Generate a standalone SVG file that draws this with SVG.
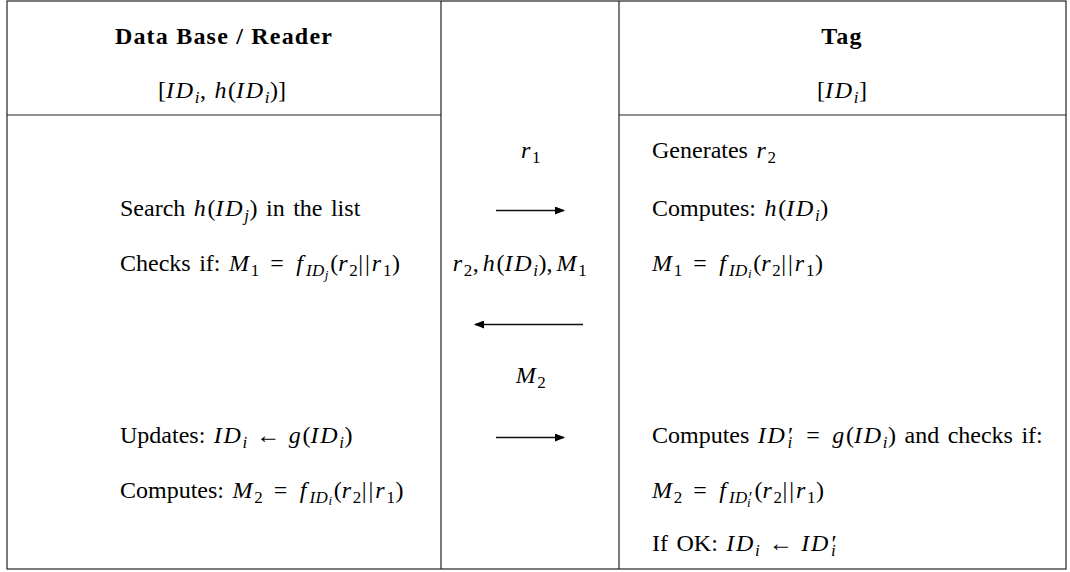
<svg xmlns="http://www.w3.org/2000/svg" width="1070" height="572" viewBox="0 0 1070 572">
<style>
.t{font-family:"Liberation Serif","DejaVu Serif",serif;font-size:24px;fill:#000;word-spacing:2.5px}
.b{font-weight:bold;letter-spacing:1.2px;word-spacing:0}
.i{font-style:italic;letter-spacing:1.7px}
.f{letter-spacing:3px}
.eq{letter-spacing:2px}
.bar{letter-spacing:2px}
.s{font-size:17px;letter-spacing:0.5px}
.ss{font-size:13px}
.m{text-anchor:middle}
.ln{stroke:#222;stroke-width:1.2;fill:none}
.arr{stroke:#111;stroke-width:1.3;fill:none;marker-end:url(#ah)}
</style>
<defs>
<marker id="ah" viewBox="0 0 10 8" refX="9" refY="4" markerWidth="10" markerHeight="8" markerUnits="userSpaceOnUse" orient="auto">
<path d="M0,0 L10,4 L0,8 z" fill="#000"/>
</marker>
</defs>
<rect width="1070" height="572" fill="#fff"/>
<g id="frame">
<rect class="ln" x="7" y="1" width="1059" height="568"/>
<line class="ln" x1="441" y1="1" x2="441" y2="569"/>
<line class="ln" x1="619" y1="1" x2="619" y2="569"/>
<line class="ln" x1="7" y1="115" x2="441" y2="115" stroke="#555"/>
<line class="ln" x1="619" y1="115" x2="1066" y2="115" stroke="#555"/>
</g>
<g id="reader">
<text class="t b m" x="224" y="44">Data Base / Reader</text>
<text class="t m" x="222" y="98">[<tspan class="i">ID</tspan><tspan class="i s" dy="5">i</tspan><tspan dy="-5">, </tspan><tspan class="i">h</tspan>(<tspan class="i">ID</tspan><tspan class="i s" dy="5">i</tspan><tspan dy="-5">)]</tspan></text>
<text class="t" x="120" y="216">Search <tspan class="i">h</tspan>(<tspan class="i">ID</tspan><tspan class="i s" dy="5">j</tspan><tspan dy="-5">) in the list</tspan></text>
<text class="t" x="120" y="271">Checks if: <tspan class="i">M</tspan><tspan class="s" dy="5">1</tspan><tspan class="eq" dy="-5"> = </tspan><tspan class="i f">f</tspan><tspan class="i s" dy="5">ID</tspan><tspan class="i ss" dy="3">j</tspan><tspan dy="-8">(</tspan><tspan class="i">r</tspan><tspan class="s" dy="5">2</tspan><tspan class="bar" dy="-5">||</tspan><tspan class="i">r</tspan><tspan class="s" dy="5">1</tspan><tspan dy="-5">)</tspan></text>
<text class="t" x="120" y="443">Updates: <tspan class="i">ID</tspan><tspan class="i s" dy="5">i</tspan><tspan dy="-5"> ← </tspan><tspan class="i">g</tspan>(<tspan class="i">ID</tspan><tspan class="i s" dy="5">i</tspan><tspan dy="-5">)</tspan></text>
<text class="t" x="120" y="498">Computes: <tspan class="i">M</tspan><tspan class="s" dy="5">2</tspan><tspan class="eq" dy="-5"> = </tspan><tspan class="i f">f</tspan><tspan class="i s" dy="5">ID</tspan><tspan class="i ss" dy="2">i</tspan><tspan dy="-7">(</tspan><tspan class="i">r</tspan><tspan class="s" dy="5">2</tspan><tspan class="bar" dy="-5">||</tspan><tspan class="i">r</tspan><tspan class="s" dy="5">1</tspan><tspan dy="-5">)</tspan></text>
</g>
<g id="tag">
<text class="t b m" x="842" y="44">Tag</text>
<text class="t m" x="842" y="98">[<tspan class="i">ID</tspan><tspan class="i s" dy="5">i</tspan><tspan dy="-5">]</tspan></text>
<text class="t" x="652" y="158">Generates <tspan class="i">r</tspan><tspan class="s" dy="5">2</tspan></text>
<text class="t" x="652" y="216">Computes: <tspan class="i">h</tspan>(<tspan class="i">ID</tspan><tspan class="i s" dy="5">i</tspan><tspan dy="-5">)</tspan></text>
<text class="t" x="652" y="271"><tspan class="i">M</tspan><tspan class="s" dy="5">1</tspan><tspan class="eq" dy="-5"> = </tspan><tspan class="i f">f</tspan><tspan class="i s" dy="5">ID</tspan><tspan class="i ss" dy="2">i</tspan><tspan dy="-7">(</tspan><tspan class="i">r</tspan><tspan class="s" dy="5">2</tspan><tspan class="bar" dy="-5">||</tspan><tspan class="i">r</tspan><tspan class="s" dy="5">1</tspan><tspan dy="-5">)</tspan></text>
<text class="t" x="652" y="443">Computes <tspan class="i">ID′</tspan><tspan class="i s" dx="-6" dy="5">i</tspan><tspan class="eq" dx="3" dy="-5"> = </tspan><tspan class="i">g</tspan>(<tspan class="i">ID</tspan><tspan class="i s" dy="5">i</tspan><tspan dy="-5">) and checks if:</tspan></text>
<text class="t" x="652" y="498"><tspan class="i">M</tspan><tspan class="s" dy="5">2</tspan><tspan class="eq" dy="-5"> = </tspan><tspan class="i f">f</tspan><tspan class="i s" dy="5">ID′</tspan><tspan class="i ss" dx="-5" dy="4">i</tspan><tspan dx="2" dy="-9">(</tspan><tspan class="i">r</tspan><tspan class="s" dy="5">2</tspan><tspan class="bar" dy="-5">||</tspan><tspan class="i">r</tspan><tspan class="s" dy="5">1</tspan><tspan dy="-5">)</tspan></text>
<text class="t" x="652" y="551">If OK: <tspan class="i">ID</tspan><tspan class="i s" dy="5">i</tspan><tspan dy="-5"> ← </tspan><tspan class="i">ID′</tspan><tspan class="i s" dx="-6" dy="5">i</tspan></text>
</g>
<g id="connectors">
<text class="t m" x="531" y="158"><tspan class="i">r</tspan><tspan class="s" dy="5">1</tspan></text>
<line class="arr" x1="496" y1="210.5" x2="564" y2="210.5"/>
<text class="t m" x="520" y="271"><tspan class="i">r</tspan><tspan class="s" dy="5">2</tspan><tspan dy="-5">,</tspan><tspan class="i" dx="4">h</tspan>(<tspan class="i">ID</tspan><tspan class="i s" dy="5">i</tspan><tspan dy="-5">),</tspan><tspan class="i" dx="4">M</tspan><tspan class="s" dy="5">1</tspan></text>
<line class="arr" x1="583" y1="324.5" x2="475" y2="324.5"/>
<text class="t m" x="531" y="383"><tspan class="i">M</tspan><tspan class="s" dy="5">2</tspan></text>
<line class="arr" x1="496" y1="437.5" x2="564" y2="437.5"/>
</g>
</svg>
